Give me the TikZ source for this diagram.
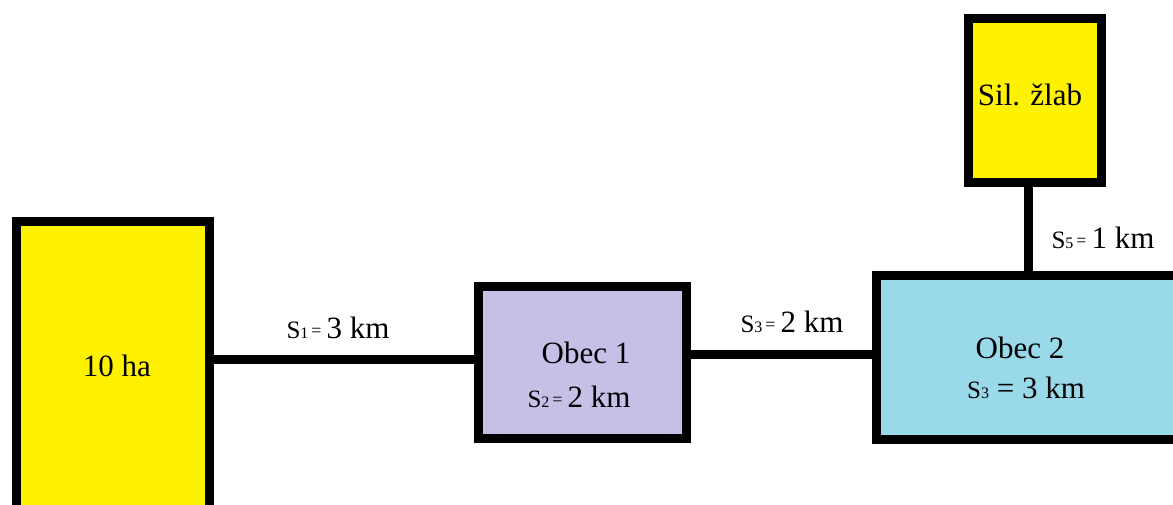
\documentclass[tikz,border=0pt]{standalone}
\usepackage{fontspec}
\setmainfont{Liberation Serif}
\definecolor{paintyellow}{RGB}{255,242,0}
\definecolor{lavender}{RGB}{200,191,231}
\definecolor{turquoise}{RGB}{153,217,234}
% distance symbol: small S, small index and small equals sign, then the value
\newcommand{\dsym}[2]{{\fontsize{25}{25}\selectfont S}{\fontsize{16}{16}\selectfont #1}\hspace{3pt}\raisebox{1.5pt}{\fontsize{18}{18}\selectfont =}\hspace{5pt}#2}
\begin{document}
\begin{tikzpicture}[x=1pt,y=-1pt,
  box/.style={draw=black, line width=9pt, rectangle, inner sep=0pt, outer sep=4.5pt},
  txt/.style={font=\fontsize{31}{37}\selectfont, inner sep=0pt, anchor=base, text=black},
  link/.style={draw=black, line width=9pt}]
\useasboundingbox (0,0) rectangle (1173,504);
\clip (0,0) rectangle (1173,504);
\fill[white] (0,0) rectangle (1173,504);

% areas and villages
\node[box, fill=paintyellow, minimum width=193pt, minimum height=289pt] (ha) at (113,366) {};
\node[box, fill=lavender, minimum width=208pt, minimum height=151.5pt] (obec1) at (582,362.25) {};
\node[box, fill=turquoise, minimum width=309pt, minimum height=163.5pt] (obec2) at (1030.5,357.25) {};
\node[box, fill=paintyellow, minimum width=133.5pt, minimum height=164pt] (sil) at (1034.75,100) {};

% texts inside the boxes
\node[txt] (hatext) at (117,376) {10 ha};
\node[txt] (siltext) at (1030,105) {Sil. žlab};
\node[txt] (obec1name) at (586,363) {Obec 1};
\node[txt] (obec1dist) at (579,407) {\dsym{2}{2 km}};
\node[txt] (obec2name) at (1020,358) {Obec 2};
\node[txt] (obec2dist) at (1026,398) {{\fontsize{25}{25}\selectfont S}{\fontsize{16}{16}\selectfont 3} = 3 km};

% roads
\draw[link] ([yshift=7pt]ha.east) -- ([yshift=7pt]ha.east -| obec1.west);
\draw[link] ([yshift=7.75pt]obec1.east) -- ([yshift=7.75pt]obec1.east -| obec2.west);
\draw[link] ([xshift=-6.25pt]sil.south) -- ([xshift=-6.25pt]sil.south |- obec2.north);

% road lengths
\node[txt] (s1) at (338,338) {\dsym{1}{3 km}};
\node[txt] (s3) at (792,332) {\dsym{3}{2 km}};
\node[txt] (s5) at (1103,248) {\dsym{5}{1 km}};
\end{tikzpicture}
\end{document}
